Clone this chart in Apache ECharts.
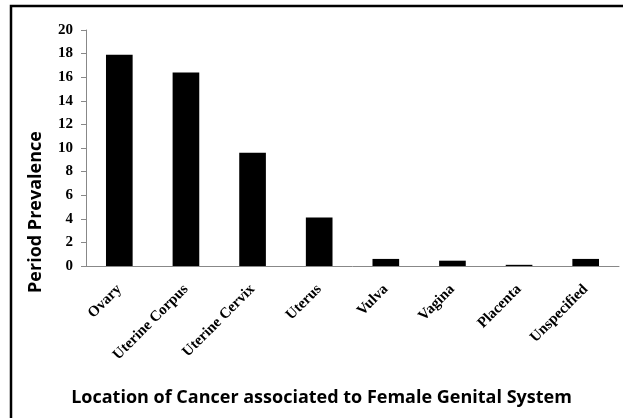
<!DOCTYPE html>
<html>
<head>
<meta charset="utf-8">
<script src="https://cdn.jsdelivr.net/npm/echarts@6/dist/echarts.min.js"></script>
<style>
  html, body { margin: 0; padding: 0; background: #fff; }
  #main { width: 623px; height: 418px; }
</style>
</head>
<body>
<div id="main"></div>
<script>
// categories and values
var categories = ['Ovary', 'Uterine Corpus', 'Uterine Cervix', 'Uterus', 'Vulva', 'Vagina', 'Placenta', 'Unspecified']
var prevalence = [17.9, 16.4, 9.6, 4.1, 0.6, 0.45, 0.1, 0.6]
var yTicks = [0, 2, 4, 6, 8, 10, 12, 14, 16, 18, 20]

var myChart = echarts.init(document.getElementById('main'))
myChart.setOption({
    animation: false,
    grid: {
        left: 86,
        right: 4,
        top: 30,
        bottom: 152
    },
    graphic: [{
        type: 'polyline',
        shape: { points: [[11, 418], [11, 6], [623, 6]] },
        style: { stroke: '#000', lineWidth: 2.5, fill: null }
    }, {
        // y axis title sits lower than the plot middle in the original
        type: 'text',
        x: 36,
        y: 212,
        rotation: Math.PI / 2,
        style: {
            text: 'Period Prevalence',
            font: 'bold 18px "Open Sans"',
            fill: '#000',
            align: 'center',
            verticalAlign: 'middle'
        }
    }],
    xAxis: {
        type: 'category',
        data: categories,
        name: 'Location of Cancer associated to Female Genital System',
        nameLocation: 'middle',
        nameGap: 123,
        nameTextStyle: {
            fontFamily: 'Open Sans',
            fontWeight: 'bold',
            fontSize: 18,
            color: '#000',
            padding: [0, 62, 0, 0]
        },
        axisLine: { lineStyle: { color: '#888', width: 1 } },
        axisTick: { length: 5, lineStyle: { color: '#888' } },
        axisLabel: {
            interval: 0,
            rotate: 45,
            margin: 21,
            fontFamily: 'Liberation Serif',
            fontWeight: 'bold',
            fontSize: 15,
            color: '#000'
        }
    },
    yAxis: {
        type: 'value',
        min: yTicks[0],
        max: yTicks[yTicks.length - 1],
        interval: 2,
        axisLine: { show: true, lineStyle: { color: '#888', width: 1 } },
        axisTick: { show: true, length: 5, lineStyle: { color: '#888' } },
        splitLine: { show: false },
        axisLabel: {
            margin: 13,
            fontFamily: 'Liberation Serif',
            fontWeight: 'bold',
            fontSize: 15,
            color: '#000'
        }
    },
    series: [{
        type: 'bar',
        data: prevalence,
        barWidth: '40%',
        itemStyle: { color: '#000' }
    }]
})
</script>
</body>
</html>
